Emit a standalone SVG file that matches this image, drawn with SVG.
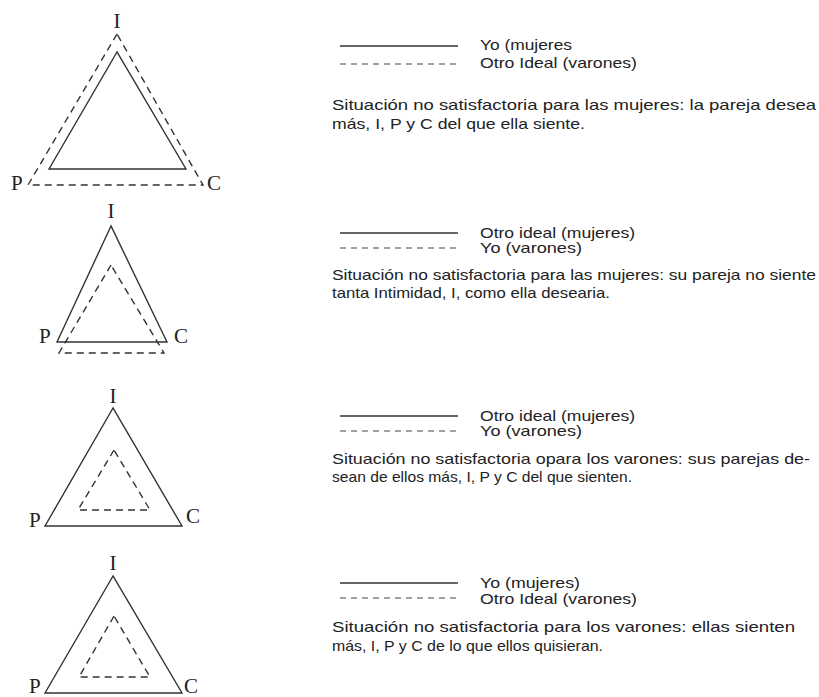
<svg xmlns="http://www.w3.org/2000/svg" width="819" height="697" viewBox="0 0 819 697">
<style>
.bg{fill:#fff}
.solid{fill:none;stroke:#333;stroke-width:1.4;stroke-linejoin:miter}
.dash{fill:none;stroke:#333;stroke-width:1.4;stroke-dasharray:7 5}
.ldash{fill:none;stroke:#444;stroke-width:1.2;stroke-dasharray:6 5}
.lab{font-family:"Liberation Serif","Times New Roman",serif;font-size:21px;fill:#222}
.leg{font-family:"Liberation Sans",Arial,sans-serif;font-size:14.5px;fill:#222}
.para{font-family:"Liberation Sans",Arial,sans-serif;font-size:14.5px;fill:#222}
</style>
<rect class="bg" x="0" y="0" width="819" height="697"/>

<g id="fig1">
  <polygon class="dash" points="117,34 28,185 203,185"/>
  <polygon class="solid" points="117,52 49,169 186,169"/>
  <text class="lab" x="117" y="28" text-anchor="middle">I</text>
  <text class="lab" x="11" y="190">P</text>
  <text class="lab" x="207" y="190">C</text>
</g>
<g id="legend1">
  <line class="solid" x1="340" y1="46" x2="458" y2="46"/>
  <line class="ldash" x1="340" y1="64" x2="458" y2="64"/>
  <text class="leg" x="480" y="50" textLength="92" lengthAdjust="spacingAndGlyphs">Yo (mujeres</text>
  <text class="leg" x="480" y="68" textLength="157" lengthAdjust="spacingAndGlyphs">Otro Ideal (varones)</text>
  <text class="para" x="332" y="110" textLength="484" lengthAdjust="spacingAndGlyphs">Situación no satisfactoria para las mujeres: la pareja desea</text>
  <text class="para" x="332" y="129" textLength="253" lengthAdjust="spacingAndGlyphs">más, I, P y C del que ella siente.</text>
</g>

<g id="fig2">
  <polygon class="solid" points="111,226 57,342 167,342"/>
  <polygon class="dash" points="111,265 59,353 164,353"/>
  <text class="lab" x="111" y="218" text-anchor="middle">I</text>
  <text class="lab" x="39" y="343">P</text>
  <text class="lab" x="174" y="343">C</text>
</g>
<g id="legend2">
  <line class="solid" x1="340" y1="233" x2="458" y2="233"/>
  <line class="ldash" x1="340" y1="248" x2="458" y2="248"/>
  <text class="leg" x="480" y="238" textLength="155" lengthAdjust="spacingAndGlyphs">Otro ideal (mujeres)</text>
  <text class="leg" x="480" y="253" textLength="102" lengthAdjust="spacingAndGlyphs">Yo (varones)</text>
  <text class="para" x="332" y="280" textLength="484" lengthAdjust="spacingAndGlyphs">Situación no satisfactoria para las mujeres: su pareja no siente</text>
  <text class="para" x="332" y="298" textLength="278" lengthAdjust="spacingAndGlyphs">tanta Intimidad, I, como ella desearia.</text>
</g>

<g id="fig3">
  <polygon class="solid" points="113,408 45,526 182,526"/>
  <polygon class="dash" points="114,450 78,510 150,510"/>
  <text class="lab" x="113" y="403" text-anchor="middle">I</text>
  <text class="lab" x="29" y="527">P</text>
  <text class="lab" x="186" y="523">C</text>
</g>
<g id="legend3">
  <line class="solid" x1="340" y1="416" x2="458" y2="416"/>
  <line class="ldash" x1="340" y1="431" x2="458" y2="431"/>
  <text class="leg" x="480" y="421" textLength="155" lengthAdjust="spacingAndGlyphs">Otro ideal (mujeres)</text>
  <text class="leg" x="480" y="436" textLength="102" lengthAdjust="spacingAndGlyphs">Yo (varones)</text>
  <text class="para" x="332" y="464" textLength="478" lengthAdjust="spacingAndGlyphs">Situación no satisfactoria opara los varones: sus parejas de-</text>
  <text class="para" x="332" y="482" textLength="300" lengthAdjust="spacingAndGlyphs">sean de ellos más, I, P y C del que sienten.</text>
</g>

<g id="fig4">
  <polygon class="solid" points="113,576 45,693 182,693"/>
  <polygon class="dash" points="114,616 79,677 150,677"/>
  <text class="lab" x="113" y="570" text-anchor="middle">I</text>
  <text class="lab" x="29" y="693">P</text>
  <text class="lab" x="184" y="693">C</text>
</g>
<g id="legend4">
  <line class="solid" x1="340" y1="583" x2="458" y2="583"/>
  <line class="ldash" x1="340" y1="598" x2="458" y2="598"/>
  <text class="leg" x="480" y="588" textLength="100" lengthAdjust="spacingAndGlyphs">Yo (mujeres)</text>
  <text class="leg" x="480" y="604" textLength="157" lengthAdjust="spacingAndGlyphs">Otro Ideal (varones)</text>
  <text class="para" x="332" y="632" textLength="463" lengthAdjust="spacingAndGlyphs">Situación no satisfactoria para los varones: ellas sienten</text>
  <text class="para" x="332" y="651" textLength="271" lengthAdjust="spacingAndGlyphs">más, I, P y C de lo que ellos quisieran.</text>
</g>
<g id="connectors"></g>
</svg>
